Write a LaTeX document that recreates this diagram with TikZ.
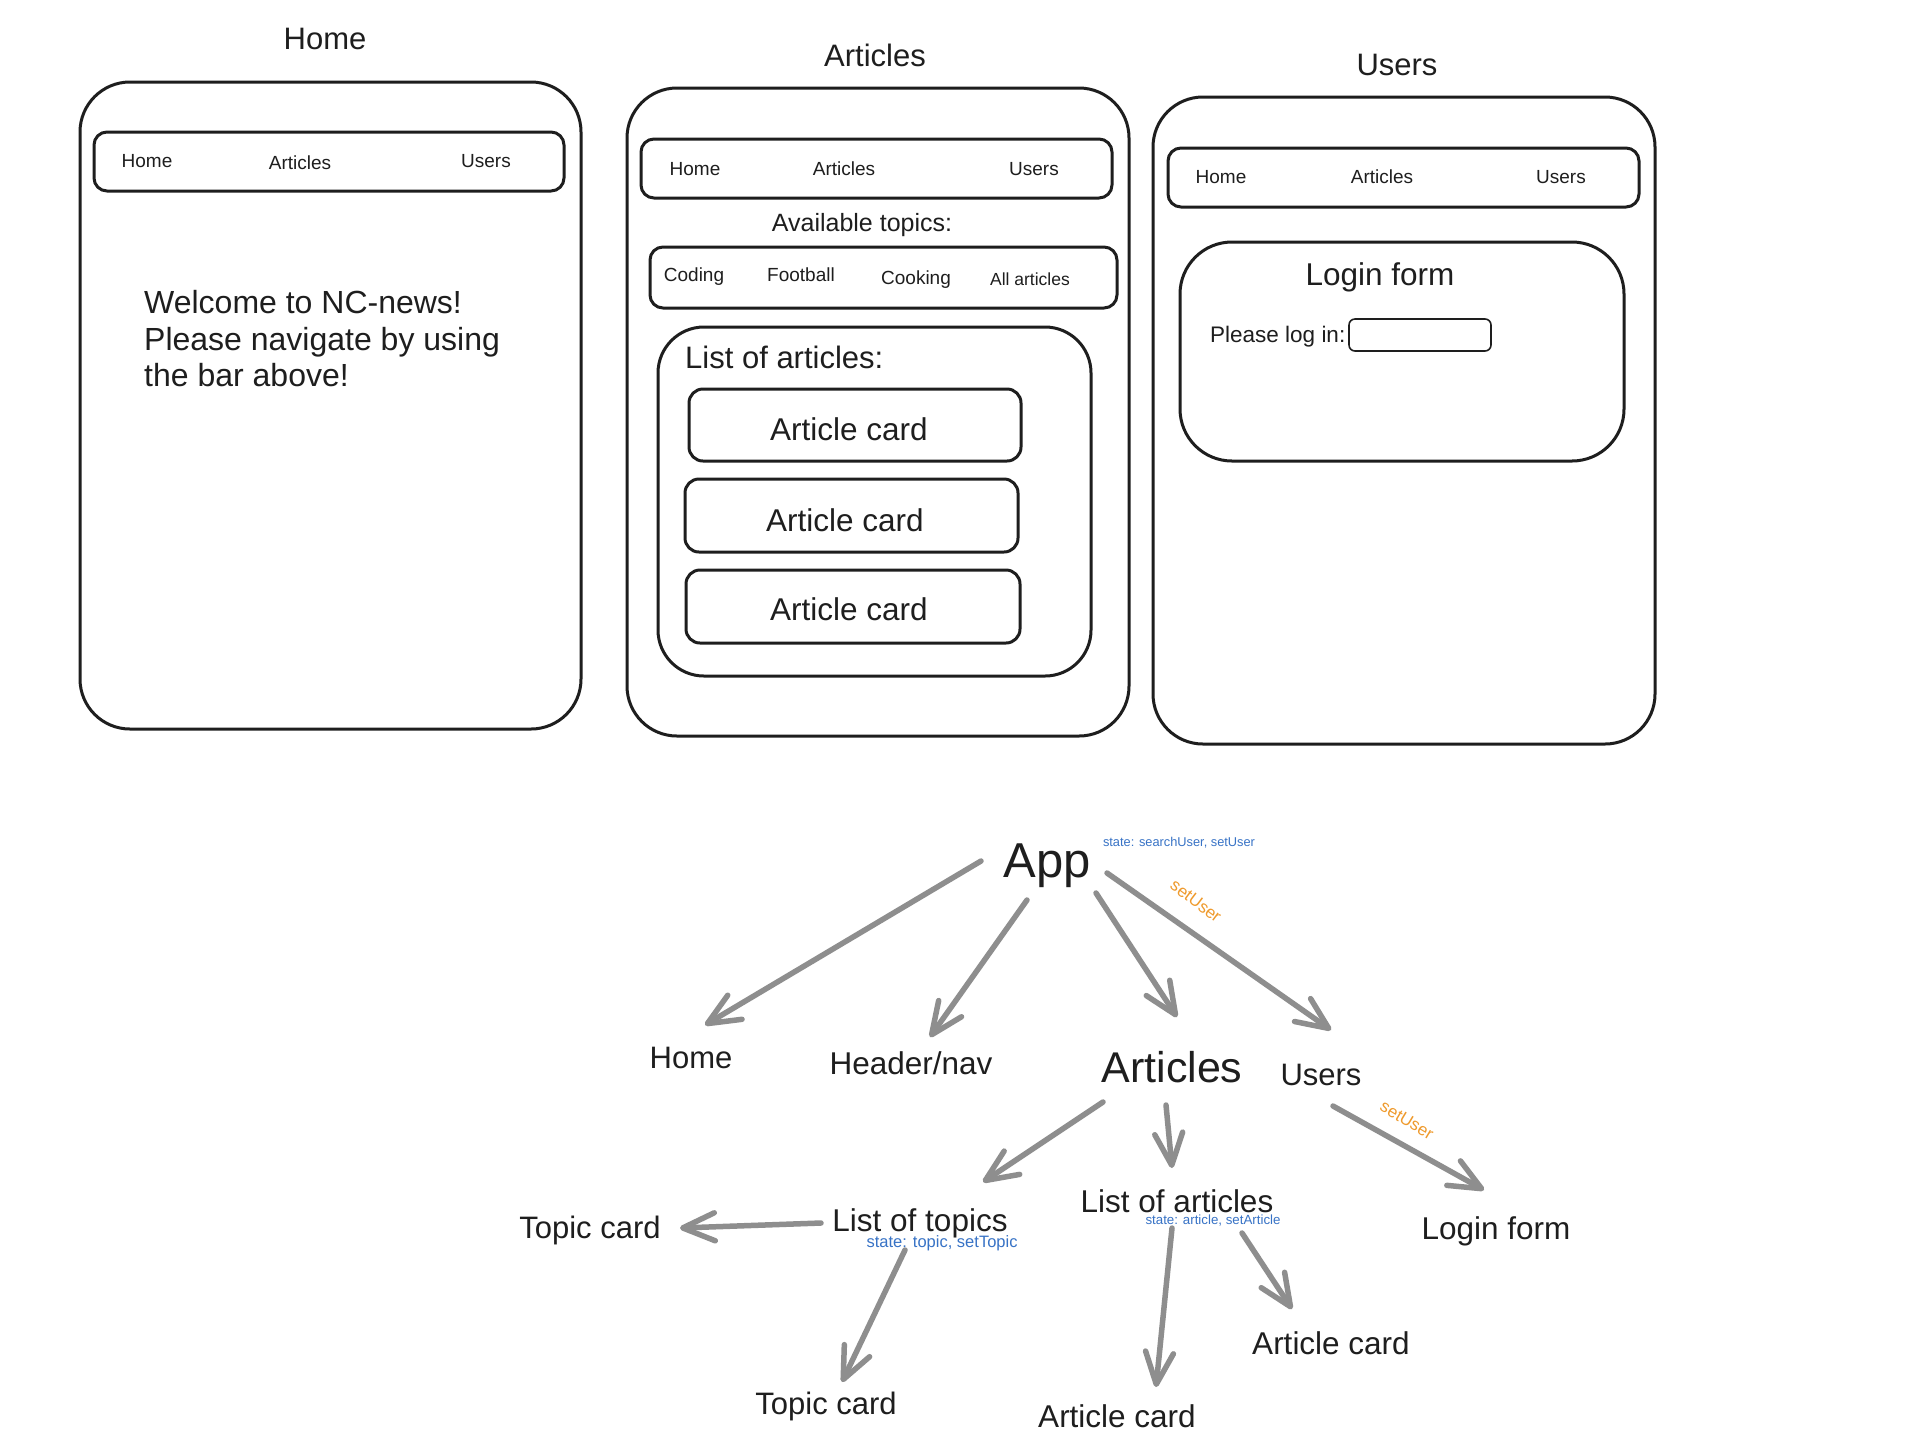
\documentclass[tikz,border=0pt]{standalone}
\usepackage{fontspec}
\setmainfont{Liberation Sans}
\usetikzlibrary{arrows.meta}
\definecolor{ink}{HTML}{1E1E1E}
\definecolor{flow}{HTML}{8E8E8E}
\definecolor{stateblue}{HTML}{3873C6}
\definecolor{setorange}{HTML}{EF9A2C}
\newcommand\fsz[1]{\fontsize{#1}{#1}\selectfont}

\begin{document}
\begin{tikzpicture}[x=1pt,y=-1pt,
  frame/.style={draw=ink, line width=3pt, rounded corners=50pt},
  bar/.style={draw=ink, line width=3pt, rounded corners=13pt},
  field/.style={draw=ink, line width=1.6pt, rounded corners=6pt},
  lbl/.style={inner sep=0pt, text=ink},
  navlbl/.style={lbl, font=\fsz{19}},
  title/.style={lbl, font=\fsz{31}},
  big/.style={lbl, font=\fsz{31.5}},
  statelbl/.style={inner sep=0pt, text=stateblue},
  setlbl/.style={inner sep=0pt, text=setorange, font=\fsz{17}},
  flowarrow/.style={draw=flow, line width=5.5pt, line cap=round,
    -{Straight Barb[length=32pt,width=28pt,round]}}
]
\useasboundingbox[fill=white] (0,0) rectangle (1918,1452);

% ---------- Home page ----------
\node[title] (homeTitle) at (325,39) {Home};
\draw[frame] (80,82) rectangle (581,729);
\draw[bar] (94,132) rectangle (564,191);
\node[navlbl] (hNavHome) at (147,161) {Home};
\node[navlbl] (hNavArt) at (300,163) {Articles};
\node[navlbl] (hNavUsr) at (486,161) {Users};
\node[lbl, anchor=west, align=left, font=\fontsize{32}{36.5}\selectfont] (welcome) at (144,339)
  {Welcome to NC-news!\\Please navigate by using\\the bar above!};

% ---------- Articles page ----------
\node[title] (artTitle) at (875,55) {Articles};
\draw[frame] (627,88) rectangle (1129,736);
\draw[bar] (641,139) rectangle (1112,198);
\node[navlbl] (aNavHome) at (695,169) {Home};
\node[navlbl] (aNavArt) at (844,169) {Articles};
\node[navlbl] (aNavUsr) at (1034,169) {Users};
\node[lbl, font=\fsz{25}] (avail) at (862,225) {Available topics:};
\draw[bar] (650,247) rectangle (1117,308);
\node[navlbl] (tCoding) at (694,277) {Coding};
\node[navlbl] (tFootball) at (801,275) {Football};
\node[navlbl] (tCooking) at (916,280) {Cooking};
\node[lbl, font=\fsz{17.5}] (tAll) at (1030,279) {All articles};
\draw[frame, rounded corners=46pt] (658,327) rectangle (1091,676);
\node[lbl, anchor=west, font=\fsz{31}] (listHead) at (685,357) {List of articles:};
\draw[bar, rounded corners=14pt] (689,389) rectangle (1021,461);
\node[big] (card1) at (849,429) {Article card};
\draw[bar, rounded corners=14pt] (685,479) rectangle (1018,552);
\node[big] (card2) at (845,520) {Article card};
\draw[bar, rounded corners=14pt] (686,570) rectangle (1020,643);
\node[big] (card3) at (849,609) {Article card};

% ---------- Users page ----------
\node[title] (usrTitle) at (1397,65) {Users};
\draw[frame] (1153,97) rectangle (1655,744);
\draw[bar] (1168,148) rectangle (1639,207);
\node[navlbl] (uNavHome) at (1221,177) {Home};
\node[navlbl] (uNavArt) at (1382,177) {Articles};
\node[navlbl] (uNavUsr) at (1561,177) {Users};
\draw[frame, rounded corners=52pt] (1180,242) rectangle (1624,461);
\node[big] (loginHead) at (1380,277) {Login form};
\node[lbl, anchor=west, font=\fsz{22.5}] (pleaseLog) at (1210,337) {Please log in:};
\draw[field] (1349,319) rectangle (1491,351);

% ---------- Component tree ----------
\node[lbl, font=\fsz{49}] (app) at (1047,866) {App};
\node[statelbl, font=\fsz{12.8}] (appState) at (1179,843) {state: searchUser, setUser};

\node[lbl, font=\fsz{31}] (home) at (691,1058) {Home};
\node[big] (header) at (911,1063) {Header/nav};
\node[lbl, font=\fsz{43}] (articles) at (1172,1067) {Articles};
\node[lbl, font=\fsz{31}] (users) at (1321,1075) {Users};

\node[big] (ltopics) at (920,1223) {List of topics};
\node[statelbl, font=\fsz{16.5}] (topicState) at (942,1243) {state: topic, setTopic};
\node[big] (larticles) at (1177,1201) {List of articles};
\node[statelbl, font=\fsz{13.3}] (articleState) at (1213,1221) {state: article, setArticle};
\node[lbl, font=\fsz{31}] (tcardL) at (590,1230) {Topic card};
\node[big] (login) at (1496,1231) {Login form};

\node[lbl, font=\fsz{31}] (tcardB) at (826,1406) {Topic card};
\node[big] (acardB) at (1117,1416) {Article card};
\node[big] (acardR) at (1331,1343) {Article card};

% connectors
\draw[flowarrow] ([shift={(-66,-5)}]app.center) -- ([shift={(14,-33)}]home.center);
\draw[flowarrow] ([shift={(-20,34)}]app.center) -- ([shift={(19,-26)}]header.center);
\draw[flowarrow] ([shift={(49,27)}]app.center) -- ([shift={(5,-50)}]articles.center);
\draw[flowarrow] ([shift={(60,7)}]app.center) -- ([shift={(10,-45)}]users.center);
\node[setlbl, rotate=-37] (setUserA) at (1196,901) {setUser};

\draw[flowarrow] ([shift={(-69,35)}]articles.center) -- ([shift={(63,-41)}]ltopics.center);
\draw[flowarrow] ([shift={(-6,38)}]articles.center) -- ([shift={(-5,-33)}]larticles.center);
\draw[flowarrow] ([shift={(12,31)}]users.center) -- ([shift={(-12,-41)}]login.center);
\node[setlbl, rotate=-31] (setUserB) at (1407,1120) {setUser};

\draw[flowarrow] ([shift={(-99,0)}]ltopics.center) -- ([shift={(90,-2)}]tcardL.center);
\draw[flowarrow] ([shift={(-15,27)}]ltopics.center) -- ([shift={(16,-24)}]tcardB.center);
\draw[flowarrow] ([shift={(-5,27)}]larticles.center) -- ([shift={(39,-29)}]acardB.center);
\draw[flowarrow] ([shift={(65,32)}]larticles.center) -- ([shift={(-39,-34)}]acardR.center);
\end{tikzpicture}
\end{document}
